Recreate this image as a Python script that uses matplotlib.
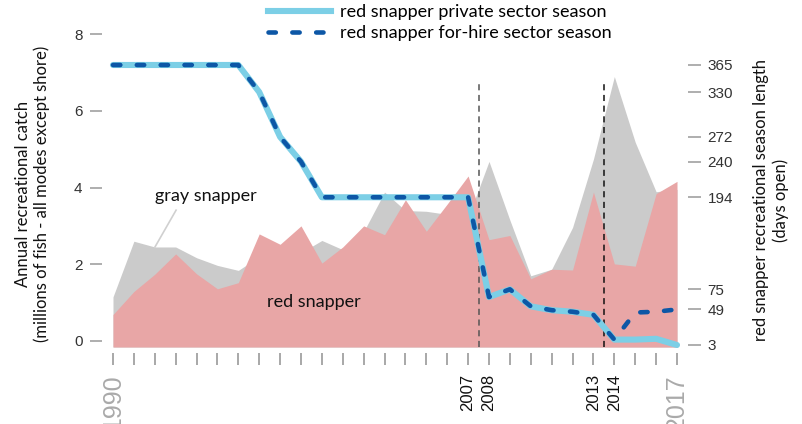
import numpy as np
import matplotlib
matplotlib.use("Agg")
import matplotlib.pyplot as plt
from matplotlib.lines import Line2D

plt.rcParams['font.family'] = ['Lato', 'DejaVu Sans']

years = list(range(1990, 2018))
red_catch = [0.69, 1.29, 1.74, 2.27, 1.75, 1.36, 1.52, 2.79, 2.52, 3.00,
             2.03, 2.45, 3.00, 2.77, 3.68, 2.86, 3.57, 4.30, 2.64, 2.75,
             1.62, 1.87, 1.85, 3.88, 2.01, 1.95, 3.84, 4.16]
gray_catch = [1.15, 2.60, 2.45, 2.45, 2.17, 1.97, 1.84, 2.20, 2.10, 2.30,
              2.62, 2.38, 2.85, 3.88, 3.40, 3.38, 3.30, 3.22, 4.68, 3.15,
              1.70, 1.87, 2.96, 4.74, 6.89, 5.18, 3.89, 3.95]
private_days = [365, 365, 365, 365, 365, 365, 365, 330, 272, 240,
                194, 194, 194, 194, 194, 194, 194, 194, 65, 75,
                53, 48, 46, 42, 10, 10, 11, 3]
forhire_days = [365, 365, 365, 365, 365, 365, 365, 330, 272, 240,
                194, 194, 194, 194, 194, 194, 194, 194, 65, 75,
                53, 48, 46, 42, 10, 45, 46, 49]
season_ticks = [365, 330, 272, 240, 194, 75, 49, 3]
catch_ticks = [0, 2, 4, 6, 8]
labelled_years = {1990: 'big', 2007: 'small', 2008: 'small',
                  2013: 'small', 2014: 'small', 2017: 'big'}
rule_changes = [2007.5, 2013.5]

W, H = 803, 424
fig = plt.figure(figsize=(W / 100, H / 100), dpi=100)
left, right, bottom, top = 113, 677, 347, 30
ax = fig.add_axes([left / W, 1 - bottom / H, (right - left) / W, (bottom - top) / H])
ax2 = ax.twinx()

ylo = -6 / 38.375
ax.set_xlim(1990, 2017)
ax.set_ylim(ylo, (341 - top) / 38.375)
ax2.set_ylim(3 - 2 / 0.7735, 3 + 315 / 0.7735)

ax.fill_between(years, gray_catch, ylo, color='#cbcbcb', lw=0, zorder=1)
ax.fill_between(years, red_catch, ylo, color='#e8a6a6', lw=0, zorder=2)

ax.vlines(rule_changes[0], ylo, 6.70, colors='#555555', linestyles=(0, (4, 3)), lw=1.1, zorder=3)
ax.vlines(rule_changes[1], ylo, 6.70, colors='#111111', linestyles=(0, (4, 3)), lw=1.1, zorder=3)

ax.text(1994.43, 3.79, 'gray snapper', ha='center', va='center', fontsize=13, color='#111111')
ax.plot([1993.02, 1992.01], [3.41, 2.45], color='#d0d0d0', lw=1.2, zorder=3)
ax.text(1999.6, 1.02, 'red snapper', ha='center', va='center', fontsize=13, color='#111111', zorder=4)

light = '#7ccfe6'
dark = '#0d57a6'
ax2.plot(years, private_days, color=light, lw=4.4, solid_capstyle='round',
         solid_joinstyle='round', clip_on=False, zorder=4)
fh, = ax2.plot(years, forhire_days, color=dark, lw=3.3, dash_capstyle='round',
               clip_on=False, zorder=5)
fh.set_dashes((1.6, 3.6))

for a in (ax, ax2):
    for s in a.spines.values():
        s.set_visible(False)

tick_font = dict(family='Liberation Sans')
ax.spines['left'].set_position(('outward', 8))
ax.set_yticks(catch_ticks)
ax.set_yticklabels([str(t) for t in catch_ticks], fontsize=11, color='#333333', **tick_font)
ax.tick_params(axis='y', length=9, width=1.1, color='#999999', pad=5)

ax2.spines['right'].set_position(('outward', 8))
ax2.set_yticks(season_ticks)
ax2.set_yticklabels([str(t) for t in season_ticks], fontsize=11, color='#333333', **tick_font)
ax2.tick_params(axis='y', length=9, width=1.1, color='#999999', pad=5)

ax.spines['bottom'].set_position(('outward', 4))
ax.set_xticks(years)
ax.set_xticklabels([str(y) if y in labelled_years else '' for y in years], rotation=90, **tick_font)
ax.tick_params(axis='x', length=8.5, width=1.2, color='#999999', pad=7)
for y, lab in zip(years, ax.get_xticklabels()):
    kind = labelled_years.get(y)
    if kind == 'big':
        lab.set_fontsize(18)
        lab.set_color('#aaaaaa')
    elif kind == 'small':
        lab.set_fontsize(12)
        lab.set_color('#111111')

fig.text(32.5 / W, 1 - 193.5 / H,
         'Annual recreational catch\n(millions of fish - all modes except shore)',
         rotation=90, ha='center', va='center', fontsize=12, color='#111111', linespacing=1.25)
fig.text(771 / W, 1 - 200 / H,
         'red snapper recreational season length\n(days open)',
         rotation=90, ha='center', va='center', fontsize=12, color='#111111', linespacing=1.25)

h1 = Line2D([], [], color=light, lw=4.4)
h2 = Line2D([], [], color=dark, lw=3.3, dash_capstyle='round', dashes=(1.6, 3.6))
fig.legend([h1, h2], ['red snapper private sector season', 'red snapper for-hire sector season'],
           loc='upper left', bbox_to_anchor=(268 / W, 1 - 4 / H), frameon=False,
           fontsize=13, handlelength=3.5, handletextpad=0.5, labelspacing=0.3,
           borderpad=0, borderaxespad=0)

fig.savefig('out.png', dpi=100)
